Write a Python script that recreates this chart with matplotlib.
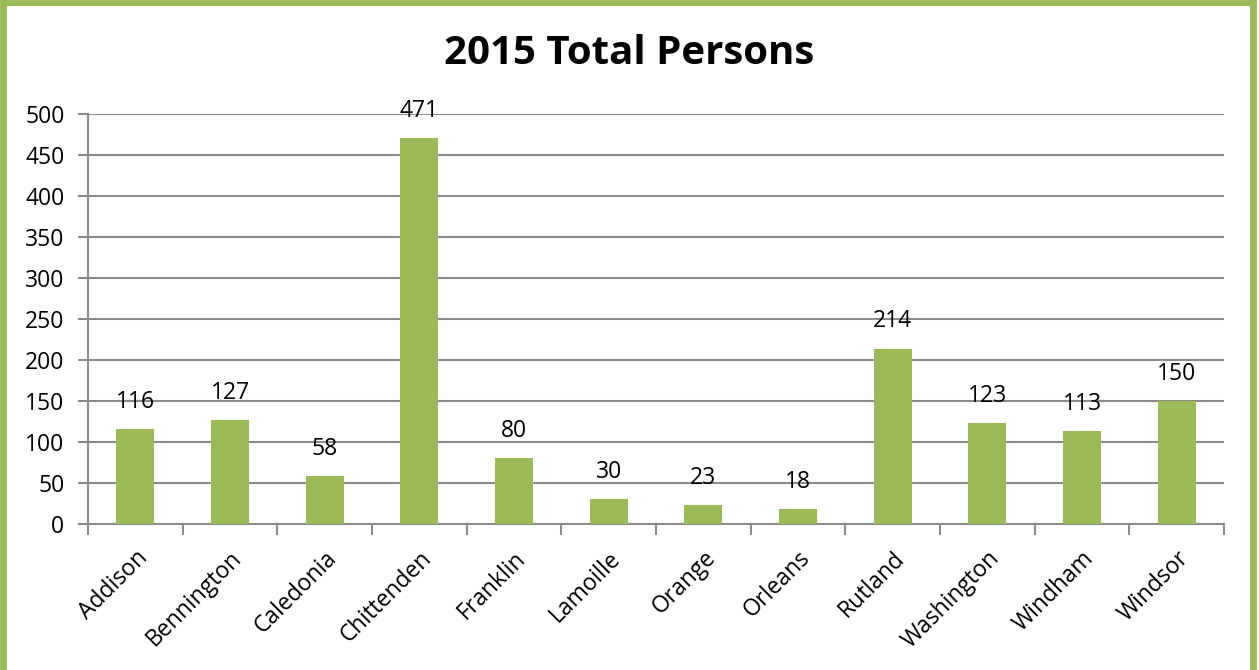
import matplotlib.pyplot as plt
from matplotlib.patches import Rectangle
import numpy as np

counties = ["Addison", "Bennington", "Caledonia", "Chittenden", "Franklin", "Lamoille",
            "Orange", "Orleans", "Rutland", "Washington", "Windham", "Windsor"]
persons = [116, 127, 58, 471, 80, 30, 23, 18, 214, 123, 113, 150]
yticks = [0, 50, 100, 150, 200, 250, 300, 350, 400, 450, 500]

green = "#9BBB59"
grid = "#8C8C8C"

plt.rcParams["font.family"] = ["Open Sans", "DejaVu Sans"]

fig = plt.figure(figsize=(12.59, 6.70), dpi=100)
ax = fig.add_axes([88 / 1259, 1 - 524 / 670, (1224 - 88) / 1259, (524 - 114) / 670])

x = np.arange(len(counties))
bars = ax.bar(x, persons, width=0.4, color=green, zorder=3)
for xi, v in zip(x, persons):
    ax.annotate(str(v), (xi, v), xytext=(0, 11), textcoords="offset points",
                ha="center", va="bottom", fontsize=16.5)

ax.set_xlim(-0.5, len(counties) - 0.5)
ax.set_ylim(0, 500)
ax.set_yticks(yticks)
ax.tick_params(axis="y", labelsize=16.5, length=7, color=grid, width=1.5, pad=10)
ax.yaxis.grid(True, color=grid, linewidth=1.5, zorder=0)

ax.set_xticks(np.arange(len(counties) + 1) - 0.5, minor=True)
ax.set_xticks(x)
ax.set_xticklabels(counties, rotation=45, ha="right", rotation_mode="anchor", fontsize=16.5)
ax.tick_params(axis="x", which="major", length=0, pad=16)
ax.tick_params(axis="x", which="minor", length=8, color=grid, width=1.5)

for side in ["top", "right"]:
    ax.spines[side].set_visible(False)
for side in ["left", "bottom"]:
    ax.spines[side].set_color(grid)
    ax.spines[side].set_linewidth(1.5)

fig.text(629 / 1259, 1 - 53 / 670, "2015 Total Persons", ha="center", va="center",
         fontsize=29, fontweight="bold")

# green frame around the chart
fig.patches.append(Rectangle((3 / 1259, -0.1), (1253 - 3) / 1259, 1.1 - 2 / 670,
                             transform=fig.transFigure, fill=False,
                             edgecolor=green, linewidth=5))

fig.savefig("out.png", dpi=100)
